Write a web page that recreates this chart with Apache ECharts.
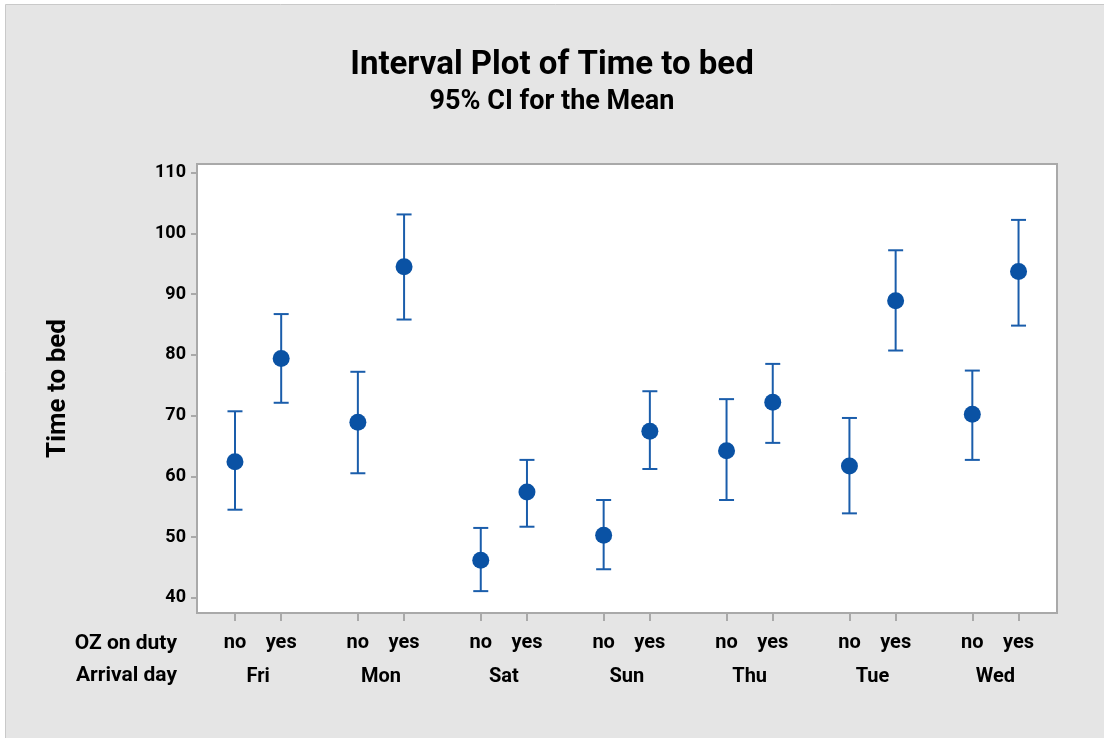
<!DOCTYPE html>
<html>
<head>
<meta charset="utf-8">
<script src="https://cdn.jsdelivr.net/npm/echarts@6/dist/echarts.min.js"></script>
<style>
  html, body { margin: 0; padding: 0; background: #ffffff; }
  #chart { width: 1104px; height: 738px; }
</style>
</head>
<body>
<div id="chart"></div>
<script>
// ---- Data ----
const days = ['Fri', 'Mon', 'Sat', 'Sun', 'Thu', 'Tue', 'Wed'];
const dutyLevels = ['no', 'yes'];
const meanNo  = [62.4, 68.9, 46.2, 50.3, 64.2, 61.7, 70.2];
const lowNo   = [54.5, 60.5, 41.1, 44.7, 56.1, 53.9, 62.7];
const highNo  = [70.7, 77.2, 51.5, 56.1, 72.7, 69.6, 77.4];
const meanYes = [79.4, 94.5, 57.4, 67.4, 72.2, 88.9, 93.7];
const lowYes  = [72.1, 85.8, 51.7, 61.2, 65.5, 80.7, 84.8];
const highYes = [86.7, 103.1, 62.7, 74.0, 78.5, 97.2, 102.2];
const yTicks = [40, 50, 60, 70, 80, 90, 100, 110];

// ---- Layout helpers (positions along a value x-axis: group index + sub offset) ----
const SUB_OFFSET = 0.376;
const tickPos = [], tickText = [], points = [], bars = [];
days.forEach((d, i) => {
  dutyLevels.forEach((lv, j) => {
    const x = i + j * SUB_OFFSET;
    tickPos.push(x);
    tickText.push(lv);
    const m = j === 0 ? meanNo[i] : meanYes[i];
    const lo = j === 0 ? lowNo[i] : lowYes[i];
    const hi = j === 0 ? highNo[i] : highYes[i];
    points.push([x, m]);
    bars.push([x, lo, hi]);
  });
});
const dayPos = days.map((d, i) => i + SUB_OFFSET / 2);

const FONT = 'Roboto';
const chart = echarts.init(document.getElementById('chart'), null, { renderer: 'canvas' });

const option = {
  backgroundColor: '#ffffff',
  animation: false,
  graphic: [
    { type: 'rect', z: -10, shape: { x: 5.5, y: 4.5, width: 1110, height: 750 },
      style: { fill: '#e5e5e5', stroke: '#c9c9c9', lineWidth: 1 } },
    { type: 'text', right: 1104 - 177, top: 633,
      style: { text: 'OZ on duty', font: 'bold 21px ' + FONT, fill: '#000' } },
    { type: 'text', right: 1104 - 177, top: 665,
      style: { text: 'Arrival day', font: 'bold 21px ' + FONT, fill: '#000' } }
  ],
  title: [
    { text: 'Interval Plot of Time to bed', left: 'center', top: 44,
      textStyle: { fontFamily: FONT, fontWeight: 'bold', fontSize: 33, color: '#000' } },
    { text: '95% CI for the Mean', left: 'center', top: 84,
      textStyle: { fontFamily: FONT, fontWeight: 'bold', fontSize: 27, color: '#000' } }
  ],
  grid: {
    left: 197, top: 164, right: 47, bottom: 125,
    show: true, backgroundColor: '#ffffff', borderColor: '#a9a9a9', borderWidth: 2
  },
  xAxis: [
    {
      type: 'value', min: -0.309, max: 6.689, position: 'bottom',
      splitLine: { show: false },
      axisLine: { show: true, onZero: false, lineStyle: { color: '#a9a9a9', width: 2 } },
      axisTick: { show: true, customValues: tickPos, length: 8, inside: false,
                  lineStyle: { color: '#a9a9a9', width: 2 } },
      axisLabel: { show: true, customValues: tickPos, margin: 20,
                   fontFamily: FONT, fontWeight: 'bold', fontSize: 20, color: '#000',
                   formatter: v => { const k = tickPos.findIndex(p => Math.abs(p - v) < 1e-6); return k >= 0 ? tickText[k] : ''; } }
    },
    {
      type: 'value', min: -0.309, max: 6.689, position: 'bottom', offset: 0,
      splitLine: { show: false },
      axisLine: { show: false, onZero: false }, axisTick: { show: false },
      axisLabel: { show: true, customValues: dayPos, margin: 54,
                   fontFamily: FONT, fontWeight: 'bold', fontSize: 20, color: '#000',
                   formatter: v => { const k = dayPos.findIndex(p => Math.abs(p - v) < 1e-6); return k >= 0 ? days[k] : ''; } }
    }
  ],
  yAxis: {
    type: 'value', min: 37.5, max: 111.4,
    name: 'Time to bed', nameLocation: 'middle', nameRotate: 90, nameGap: 126,
    nameTextStyle: { fontFamily: FONT, fontWeight: 'bold', fontSize: 26, color: '#000' },
    splitLine: { show: false },
    axisLine: { show: true, onZero: false, lineStyle: { color: '#a9a9a9', width: 2 } },
    axisTick: { show: true, customValues: yTicks, length: 6, lineStyle: { color: '#a9a9a9', width: 2 } },
    axisLabel: { show: true, customValues: yTicks, margin: 11,
                 fontFamily: FONT, fontWeight: 'bold', fontSize: 18, color: '#000' }
  },
  series: [
    {
      type: 'custom', xAxisIndex: 0, yAxisIndex: 0,
      data: bars,
      renderItem: function (params, api) {
        const x = api.value(0), lo = api.value(1), hi = api.value(2);
        const pLo = api.coord([x, lo]);
        const pHi = api.coord([x, hi]);
        const half = 7.5;
        const style = { stroke: '#1a5dab', lineWidth: 2 };
        return {
          type: 'group',
          children: [
            { type: 'line', shape: { x1: pLo[0], y1: pLo[1], x2: pHi[0], y2: pHi[1] }, style },
            { type: 'line', shape: { x1: pHi[0] - half, y1: pHi[1], x2: pHi[0] + half, y2: pHi[1] }, style },
            { type: 'line', shape: { x1: pLo[0] - half, y1: pLo[1], x2: pLo[0] + half, y2: pLo[1] }, style }
          ]
        };
      },
      z: 2
    },
    {
      type: 'scatter', xAxisIndex: 0, yAxisIndex: 0,
      data: points, symbol: 'circle', symbolSize: 17,
      itemStyle: { color: '#0a52a4', opacity: 1 },
      z: 3
    }
  ]
};
chart.setOption(option);
</script>
</body>
</html>
